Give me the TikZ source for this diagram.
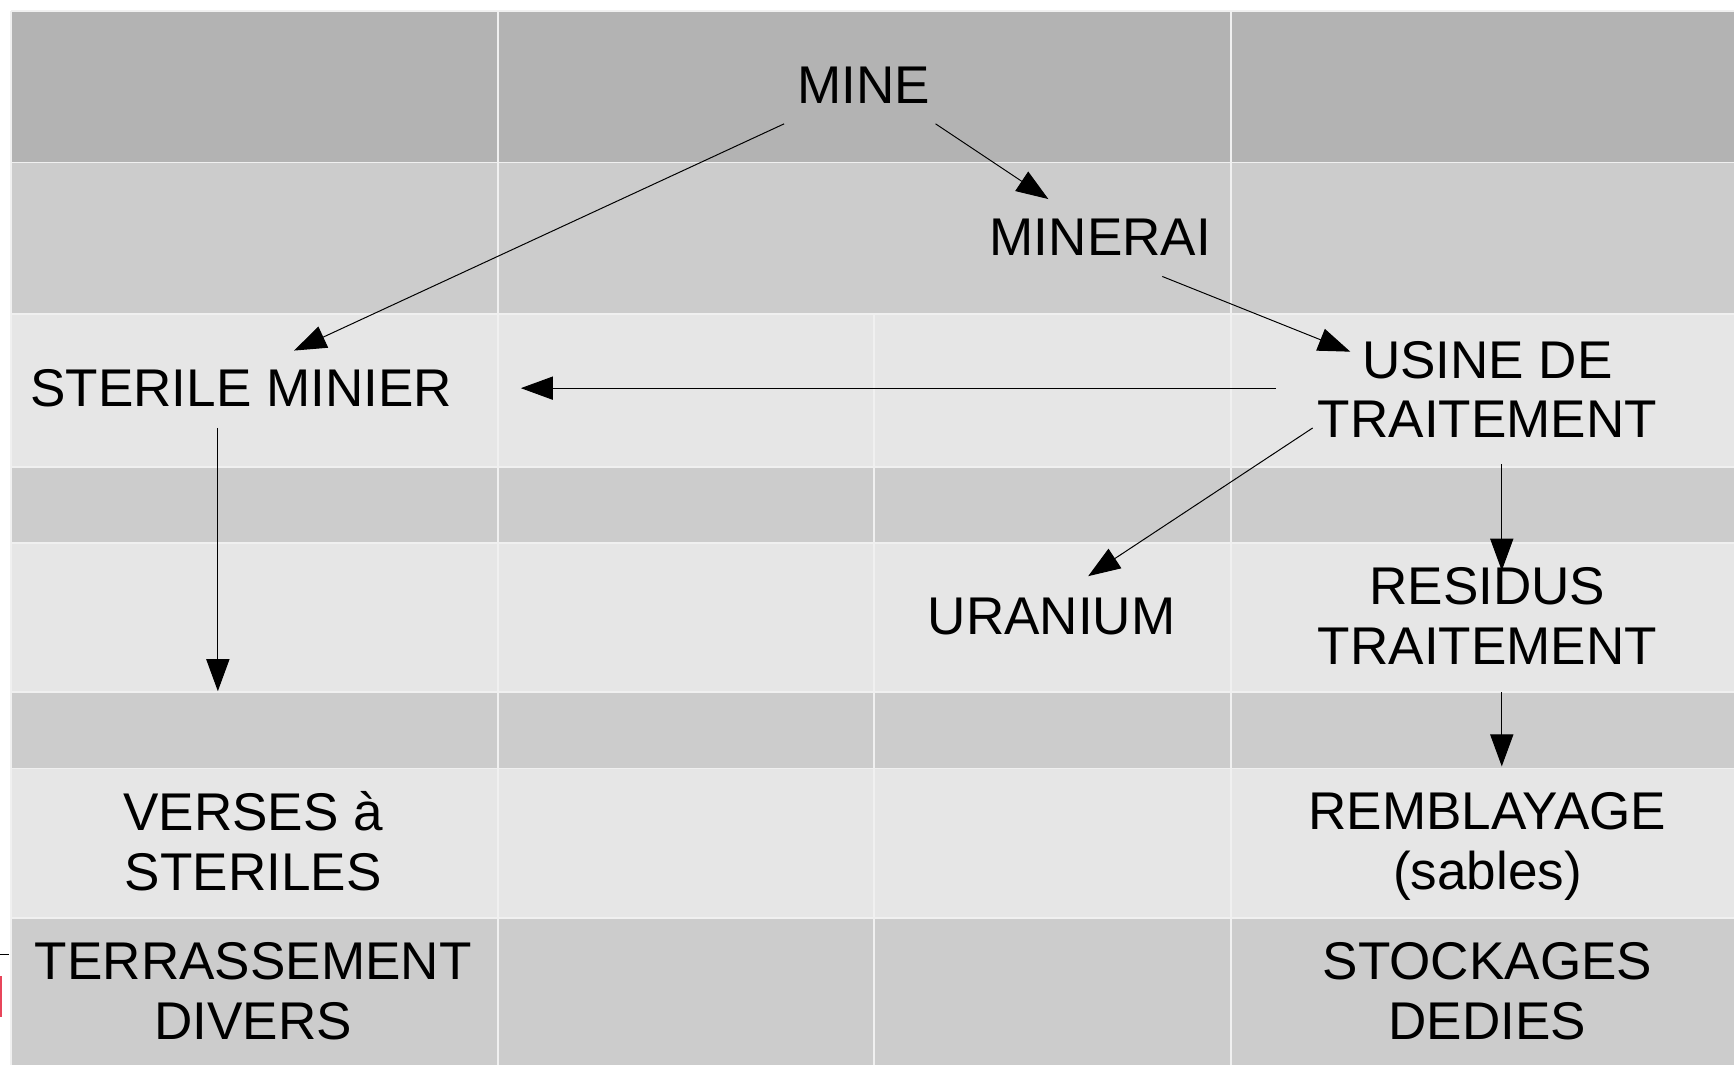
\documentclass[tikz,border=0pt]{standalone}
\usepackage{fontspec}
\setmainfont{Liberation Sans}
\usetikzlibrary{arrows.meta}
\definecolor{rowA}{HTML}{B3B3B3}
\definecolor{rowB}{HTML}{CCCCCC}
\definecolor{rowC}{HTML}{E6E6E6}
\definecolor{gridc}{HTML}{F0F0F0}
\definecolor{redmark}{HTML}{E8455A}
\newcommand{\twolines}[2]{\begin{tabular}[t]{@{}c@{}}#1\\#2\end{tabular}}
\begin{document}
\begin{tikzpicture}[x=1pt,y=-1pt,
  lab/.style={inner sep=0pt, anchor=base, font=\fontsize{48}{54}\selectfont},
  arr/.style={draw=black, line width=0.9pt, -{Triangle[length=29pt,width=21pt]}},
  gridline/.style={draw=gridc, line width=1.6pt}]
\useasboundingbox (0,0) rectangle (1568,963);
% rows
\fill[rowA] (10,10) rectangle (1568,147);
\fill[rowB] (10,147) rectangle (1568,284);
\fill[rowC] (10,284) rectangle (1568,422);
\fill[rowB] (10,422) rectangle (1568,491);
\fill[rowC] (10,491) rectangle (1568,626);
\fill[rowB] (10,626) rectangle (1568,695);
\fill[rowC] (10,695) rectangle (1568,830);
\fill[rowB] (10,830) rectangle (1568,963);
% grid lines
\foreach \yy in {10,147,284,422,491,626,695,830}
  \draw[gridline] (10,\yy) -- (1568,\yy);
\draw[gridline] (10,10) -- (10,963);
\draw[gridline] (450,10) -- (450,963);
\draw[gridline] (1113,10) -- (1113,963);
\draw[gridline] (790,284) -- (790,963);
% edge artefacts
\draw[black, line width=0.8pt] (0,863) -- (8,863);
\fill[redmark] (0,883) rectangle (2,920);
% labels
\node[lab] (mine) at (781,94) {MINE};
\node[lab] (minerai) at (995,231) {MINERAI};
\node[lab] (sterile) at (218,368) {STERILE MINIER};
\node[lab] (usine) at (1345,342) {\twolines{USINE DE}{TRAITEMENT}};
\node[lab] (uranium) at (951,574) {URANIUM};
\node[lab] (residus) at (1345,547) {\twolines{RESIDUS}{TRAITEMENT}};
\node[lab] (verses) at (229,751) {\twolines{VERSES à}{STERILES}};
\node[lab] (rembl) at (1345,750) {\twolines{REMBLAYAGE}{(sables)}};
\node[lab] (terr) at (229,886) {\twolines{TERRASSEMENT}{DIVERS}};
\node[lab] (stock) at (1345,886) {\twolines{STOCKAGES}{DEDIES}};
\coordinate (sterEnd) at (197,625);
% connectors
\draw[arr] ([shift={(-72,18)}]mine.base) -- ([shift={(48,-51)}]sterile.base);
\draw[arr] ([shift={(65,18)}]mine.base) -- ([shift={(-47,-51)}]minerai.base);
\draw[arr] ([shift={(56,19)}]minerai.base) -- ([shift={(-124,-24)}]usine.base);
\draw[arr] ([shift={(-191,9)}]usine.base) -- ([shift={(253,-17)}]sterile.base);
\draw[arr] ([shift={(-158,45)}]usine.base) -- ([shift={(33,-53)}]uranium.base);
\draw[arr] ([shift={(13,78)}]usine.base) -- ([shift={(13,-31)}]residus.base);
\draw[arr] ([shift={(13,79)}]residus.base) -- ([shift={(13,-57)}]rembl.base);
\draw[arr] ([shift={(-21,19)}]sterile.base) -- (sterEnd);
\end{tikzpicture}
\end{document}
